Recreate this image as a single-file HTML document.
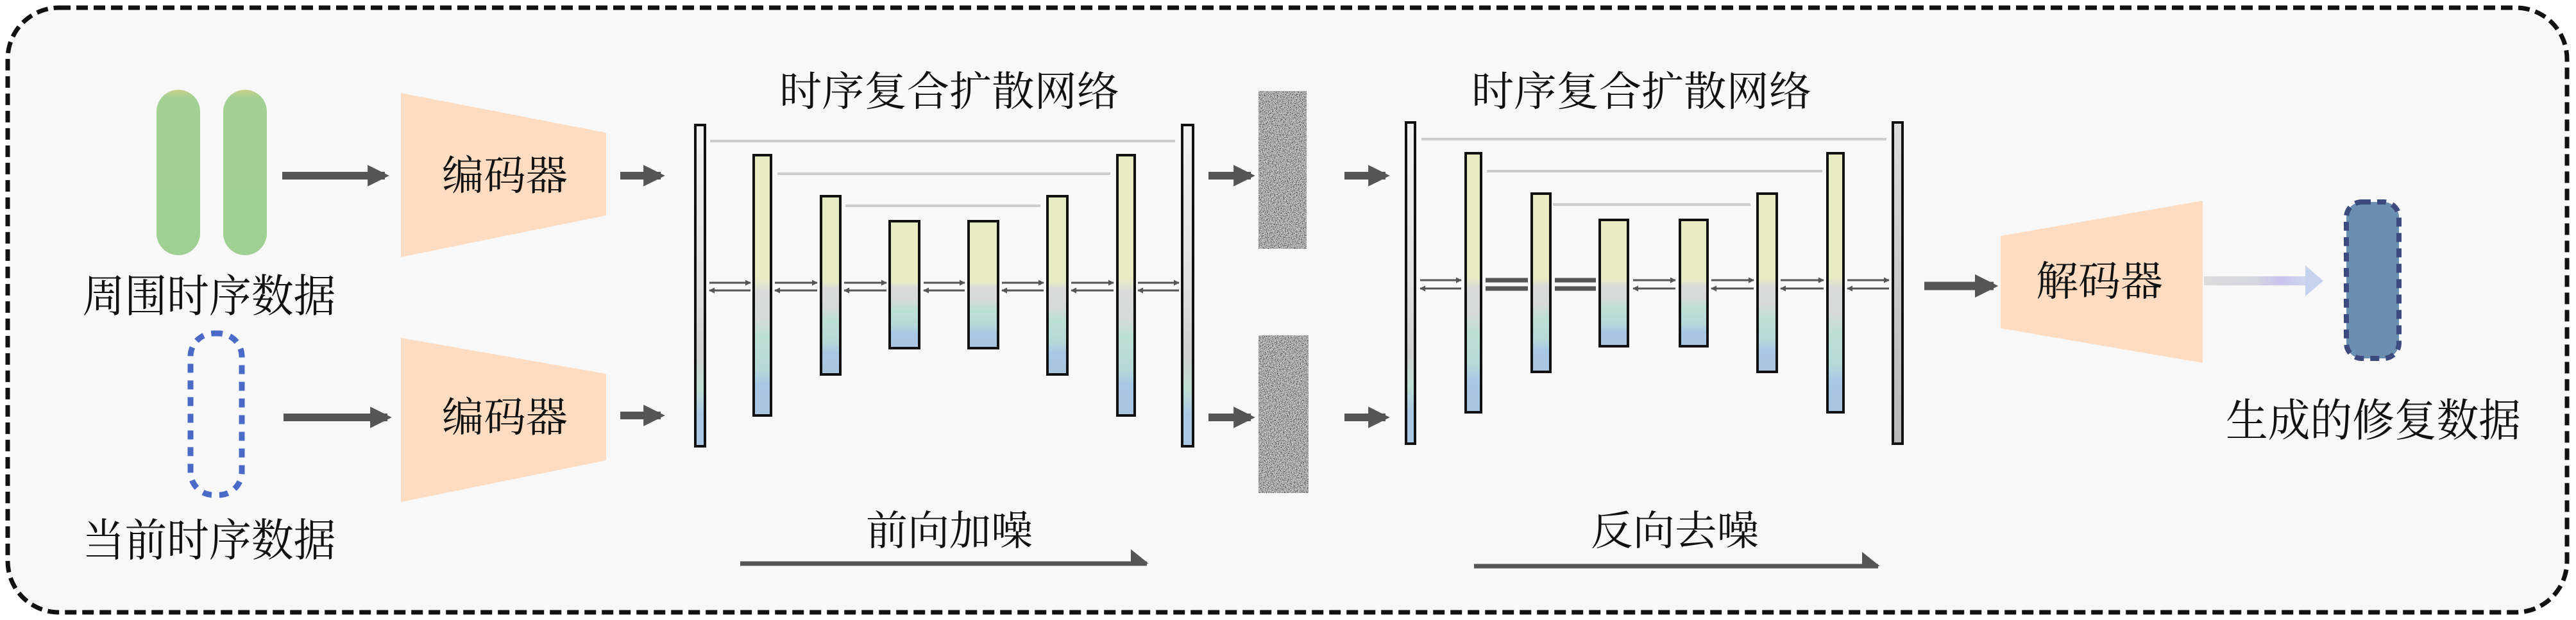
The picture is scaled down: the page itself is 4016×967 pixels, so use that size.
<!DOCTYPE html>
<html><head><meta charset="utf-8"><style>
html,body{margin:0;padding:0;background:#fff;}
svg{display:block;}
text{font-family:"Liberation Serif","Noto Serif CJK SC","Noto Sans CJK SC",serif;fill:#111;}
</style></head><body>
<svg width="4016" height="967" viewBox="0 0 4016 967" xmlns="http://www.w3.org/2000/svg">
<defs>
<linearGradient id="inner" x1="0" y1="0" x2="0" y2="1">
<stop offset="0" stop-color="#e7ebc4"/><stop offset="0.48" stop-color="#e7ebc4"/>
<stop offset="0.52" stop-color="#dadada"/><stop offset="0.62" stop-color="#d6d9d8"/>
<stop offset="0.7" stop-color="#bde0d4"/><stop offset="0.82" stop-color="#b6d9d8"/>
<stop offset="0.88" stop-color="#a9c8e4"/><stop offset="1" stop-color="#a9c4de"/>
</linearGradient>
<linearGradient id="outer" x1="0" y1="0" x2="0" y2="1">
<stop offset="0" stop-color="#f2f2f2"/><stop offset="0.5" stop-color="#e0e0e0"/>
<stop offset="0.72" stop-color="#cfcfcf"/><stop offset="0.82" stop-color="#bfe0d4"/>
<stop offset="0.9" stop-color="#a9c8e4"/><stop offset="1" stop-color="#a9c8e4"/>
</linearGradient>
<linearGradient id="outerG" x1="0" y1="0" x2="0" y2="1">
<stop offset="0" stop-color="#dcdcdc"/><stop offset="1" stop-color="#b8b8b8"/>
</linearGradient>
<linearGradient id="pill" x1="0" y1="0" x2="0" y2="1">
<stop offset="0" stop-color="#c9cf8a"/><stop offset="0.05" stop-color="#a3d193"/><stop offset="1" stop-color="#9fd092"/>
</linearGradient>
<linearGradient id="light" x1="0" y1="0" x2="1" y2="0">
<stop offset="0" stop-color="#dcdcdc"/><stop offset="0.5" stop-color="#d6d6e0"/><stop offset="0.75" stop-color="#c9c3ee"/><stop offset="1" stop-color="#cfd8ee"/>
</linearGradient>
<filter id="noise" x="0" y="0" width="1" height="1">
<feTurbulence type="fractalNoise" baseFrequency="0.7" numOctaves="2" seed="3"/>
<feColorMatrix type="matrix" values="1.5 0 0 0 -0.35  1.5 0 0 0 -0.35  1.5 0 0 0 -0.35  0 0 0 0 1"/>
</filter>
<marker id="ah" viewBox="0 0 10 10" refX="9" refY="5" markerWidth="3" markerHeight="3" orient="auto"><path d="M0,0 L10,5 L0,10 z" fill="#555"/></marker>
<marker id="ahr" viewBox="0 0 10 10" refX="9" refY="10" markerWidth="4" markerHeight="4" orient="auto"><path d="M0,2 L10,10 L0,10 z" fill="#555"/></marker>
<marker id="big" viewBox="0 0 10 10" refX="8" refY="5" markerWidth="2.8" markerHeight="2.8" orient="auto"><path d="M0,0 L10,5 L0,10 z" fill="#555"/></marker>
</defs>
<rect x="0" y="0" width="4016" height="967" fill="#fff"/>
<rect x="12" y="12" width="3990" height="943" rx="80" fill="#f8f8f8" stroke="#111" stroke-width="7" stroke-dasharray="18 9"/>

<rect x="244" y="140" width="68" height="258" rx="34" fill="url(#pill)"/>
<rect x="348" y="140" width="68" height="258" rx="34" fill="url(#pill)"/>
<text x="326" y="486" font-size="70" text-anchor="middle" textLength="395" lengthAdjust="spacingAndGlyphs">周围时序数据</text>
<rect x="297" y="520" width="80" height="252" rx="36" fill="none" stroke="#4a6ac8" stroke-width="9" stroke-dasharray="14 12"/>
<text x="326" y="867" font-size="70" text-anchor="middle" textLength="395" lengthAdjust="spacingAndGlyphs">当前时序数据</text>

<line x1="440" y1="274" x2="600" y2="274" stroke="#555" stroke-width="12" marker-end="url(#big)"/>
<line x1="442" y1="651" x2="604" y2="651" stroke="#555" stroke-width="12" marker-end="url(#big)"/>

<polygon points="625,145 945,207 945,336 625,401" fill="#fddcc2"/>
<text x="787" y="296" font-size="64" text-anchor="middle" textLength="196" lengthAdjust="spacingAndGlyphs">编码器</text>
<polygon points="625,527 945,583 945,718 625,783" fill="#fddcc2"/>
<text x="787" y="673" font-size="64" text-anchor="middle" textLength="196" lengthAdjust="spacingAndGlyphs">编码器</text>

<line x1="967" y1="274" x2="1030" y2="274" stroke="#555" stroke-width="12" marker-end="url(#big)"/>
<line x1="967" y1="648" x2="1030" y2="648" stroke="#555" stroke-width="12" marker-end="url(#big)"/>

<text x="1480" y="165" font-size="64" text-anchor="middle" textLength="530" lengthAdjust="spacingAndGlyphs">时序复合扩散网络</text>
<g stroke="#ccc" stroke-width="4">
<line x1="1107" y1="220" x2="1832" y2="220"/>
<line x1="1212" y1="271" x2="1731" y2="271"/>
<line x1="1318" y1="321" x2="1622" y2="321"/>
</g>
<g stroke="#111" stroke-width="4">
<rect x="1084" y="195" width="15" height="501" fill="url(#outer)"/>
<rect x="1175" y="242" width="27" height="406" fill="url(#inner)"/>
<rect x="1280" y="306" width="30" height="278" fill="url(#inner)"/>
<rect x="1387" y="345" width="46" height="198" fill="url(#inner)"/>
<rect x="1510" y="345" width="46" height="198" fill="url(#inner)"/>
<rect x="1633" y="306" width="31" height="278" fill="url(#inner)"/>
<rect x="1742" y="242" width="27" height="406" fill="url(#inner)"/>
<rect x="1843" y="195" width="17" height="501" fill="url(#outer)"/>
</g>
<g stroke="#555" stroke-width="3">
<line x1="1106" y1="441" x2="1170" y2="441" marker-end="url(#ah)"/><line x1="1170" y1="453" x2="1106" y2="453" marker-end="url(#ah)"/>
<line x1="1208" y1="441" x2="1274" y2="441" marker-end="url(#ah)"/><line x1="1274" y1="453" x2="1208" y2="453" marker-end="url(#ah)"/>
<line x1="1316" y1="441" x2="1382" y2="441" marker-end="url(#ah)"/><line x1="1382" y1="453" x2="1316" y2="453" marker-end="url(#ah)"/>
<line x1="1440" y1="441" x2="1504" y2="441" marker-end="url(#ah)"/><line x1="1504" y1="453" x2="1440" y2="453" marker-end="url(#ah)"/>
<line x1="1562" y1="441" x2="1627" y2="441" marker-end="url(#ah)"/><line x1="1627" y1="453" x2="1562" y2="453" marker-end="url(#ah)"/>
<line x1="1670" y1="441" x2="1736" y2="441" marker-end="url(#ah)"/><line x1="1736" y1="453" x2="1670" y2="453" marker-end="url(#ah)"/>
<line x1="1774" y1="441" x2="1838" y2="441" marker-end="url(#ah)"/><line x1="1838" y1="453" x2="1774" y2="453" marker-end="url(#ah)"/>
</g>
<text x="1480" y="850" font-size="64" text-anchor="middle" textLength="260" lengthAdjust="spacingAndGlyphs">前向加噪</text>
<line x1="1154" y1="879" x2="1788" y2="879" stroke="#555" stroke-width="7" marker-end="url(#ahr)"/>

<line x1="1884" y1="274" x2="1950" y2="274" stroke="#555" stroke-width="12" marker-end="url(#big)"/>
<line x1="1884" y1="651" x2="1950" y2="651" stroke="#555" stroke-width="12" marker-end="url(#big)"/>
<rect x="1962" y="142" width="75" height="246" fill="#777"/>
<rect x="1962" y="142" width="75" height="246" filter="url(#noise)"/>
<rect x="1962" y="523" width="78" height="246" fill="#777"/>
<rect x="1962" y="523" width="78" height="246" filter="url(#noise)"/>

<line x1="2096" y1="274" x2="2160" y2="274" stroke="#555" stroke-width="12" marker-end="url(#big)"/>
<line x1="2096" y1="651" x2="2160" y2="651" stroke="#555" stroke-width="12" marker-end="url(#big)"/>

<text x="2559" y="165" font-size="64" text-anchor="middle" textLength="530" lengthAdjust="spacingAndGlyphs">时序复合扩散网络</text>
<g stroke="#ccc" stroke-width="4">
<line x1="2216" y1="217" x2="2941" y2="217"/>
<line x1="2318" y1="267" x2="2841" y2="267"/>
<line x1="2421" y1="319" x2="2729" y2="319"/>
</g>
<g stroke="#111" stroke-width="4">
<rect x="2192" y="191" width="14" height="501" fill="url(#outer)"/>
<rect x="2285" y="239" width="24" height="404" fill="url(#inner)"/>
<rect x="2388" y="302" width="29" height="278" fill="url(#inner)"/>
<rect x="2494" y="343" width="44" height="197" fill="url(#inner)"/>
<rect x="2619" y="343" width="43" height="197" fill="url(#inner)"/>
<rect x="2740" y="302" width="30" height="278" fill="url(#inner)"/>
<rect x="2849" y="239" width="25" height="404" fill="url(#inner)"/>
<rect x="2951" y="191" width="15" height="501" fill="url(#outerG)"/>
</g>
<g stroke="#555" stroke-width="3">
<line x1="2214" y1="437" x2="2278" y2="437" marker-end="url(#ah)"/><line x1="2278" y1="450" x2="2214" y2="450" marker-end="url(#ah)"/>
<line x1="2316" y1="437" x2="2382" y2="437" stroke-width="7"/><line x1="2382" y1="450" x2="2316" y2="450" stroke-width="7"/>
<line x1="2424" y1="437" x2="2488" y2="437" stroke-width="7"/><line x1="2488" y1="450" x2="2424" y2="450" stroke-width="7"/>
<line x1="2546" y1="437" x2="2612" y2="437" marker-end="url(#ah)"/><line x1="2612" y1="450" x2="2546" y2="450" marker-end="url(#ah)"/>
<line x1="2668" y1="437" x2="2734" y2="437" marker-end="url(#ah)"/><line x1="2734" y1="450" x2="2668" y2="450" marker-end="url(#ah)"/>
<line x1="2776" y1="437" x2="2843" y2="437" marker-end="url(#ah)"/><line x1="2843" y1="450" x2="2776" y2="450" marker-end="url(#ah)"/>
<line x1="2880" y1="437" x2="2945" y2="437" marker-end="url(#ah)"/><line x1="2945" y1="450" x2="2880" y2="450" marker-end="url(#ah)"/>
</g>
<text x="2611" y="850" font-size="64" text-anchor="middle" textLength="262" lengthAdjust="spacingAndGlyphs">反向去噪</text>
<line x1="2298" y1="883" x2="2928" y2="883" stroke="#555" stroke-width="7" marker-end="url(#ahr)"/>

<line x1="3000" y1="446" x2="3108" y2="446" stroke="#555" stroke-width="13" marker-end="url(#big)"/>
<polygon points="3119,368 3434,313 3434,566 3119,512" fill="#fddcc2"/>
<text x="3273" y="461" font-size="64" text-anchor="middle" textLength="198" lengthAdjust="spacingAndGlyphs">解码器</text>
<rect x="3436" y="431" width="160" height="14" fill="url(#light)"/>
<polygon points="3594,414 3622,438 3594,462" fill="#c6d2ee"/>

<rect x="3658" y="315" width="82" height="244" rx="24" fill="#6b8fb1" stroke="#3d4a80" stroke-width="8" stroke-dasharray="14 10"/>
<text x="3700" y="680" font-size="70" text-anchor="middle" textLength="460" lengthAdjust="spacingAndGlyphs">生成的修复数据</text>
</svg>
</body></html>
